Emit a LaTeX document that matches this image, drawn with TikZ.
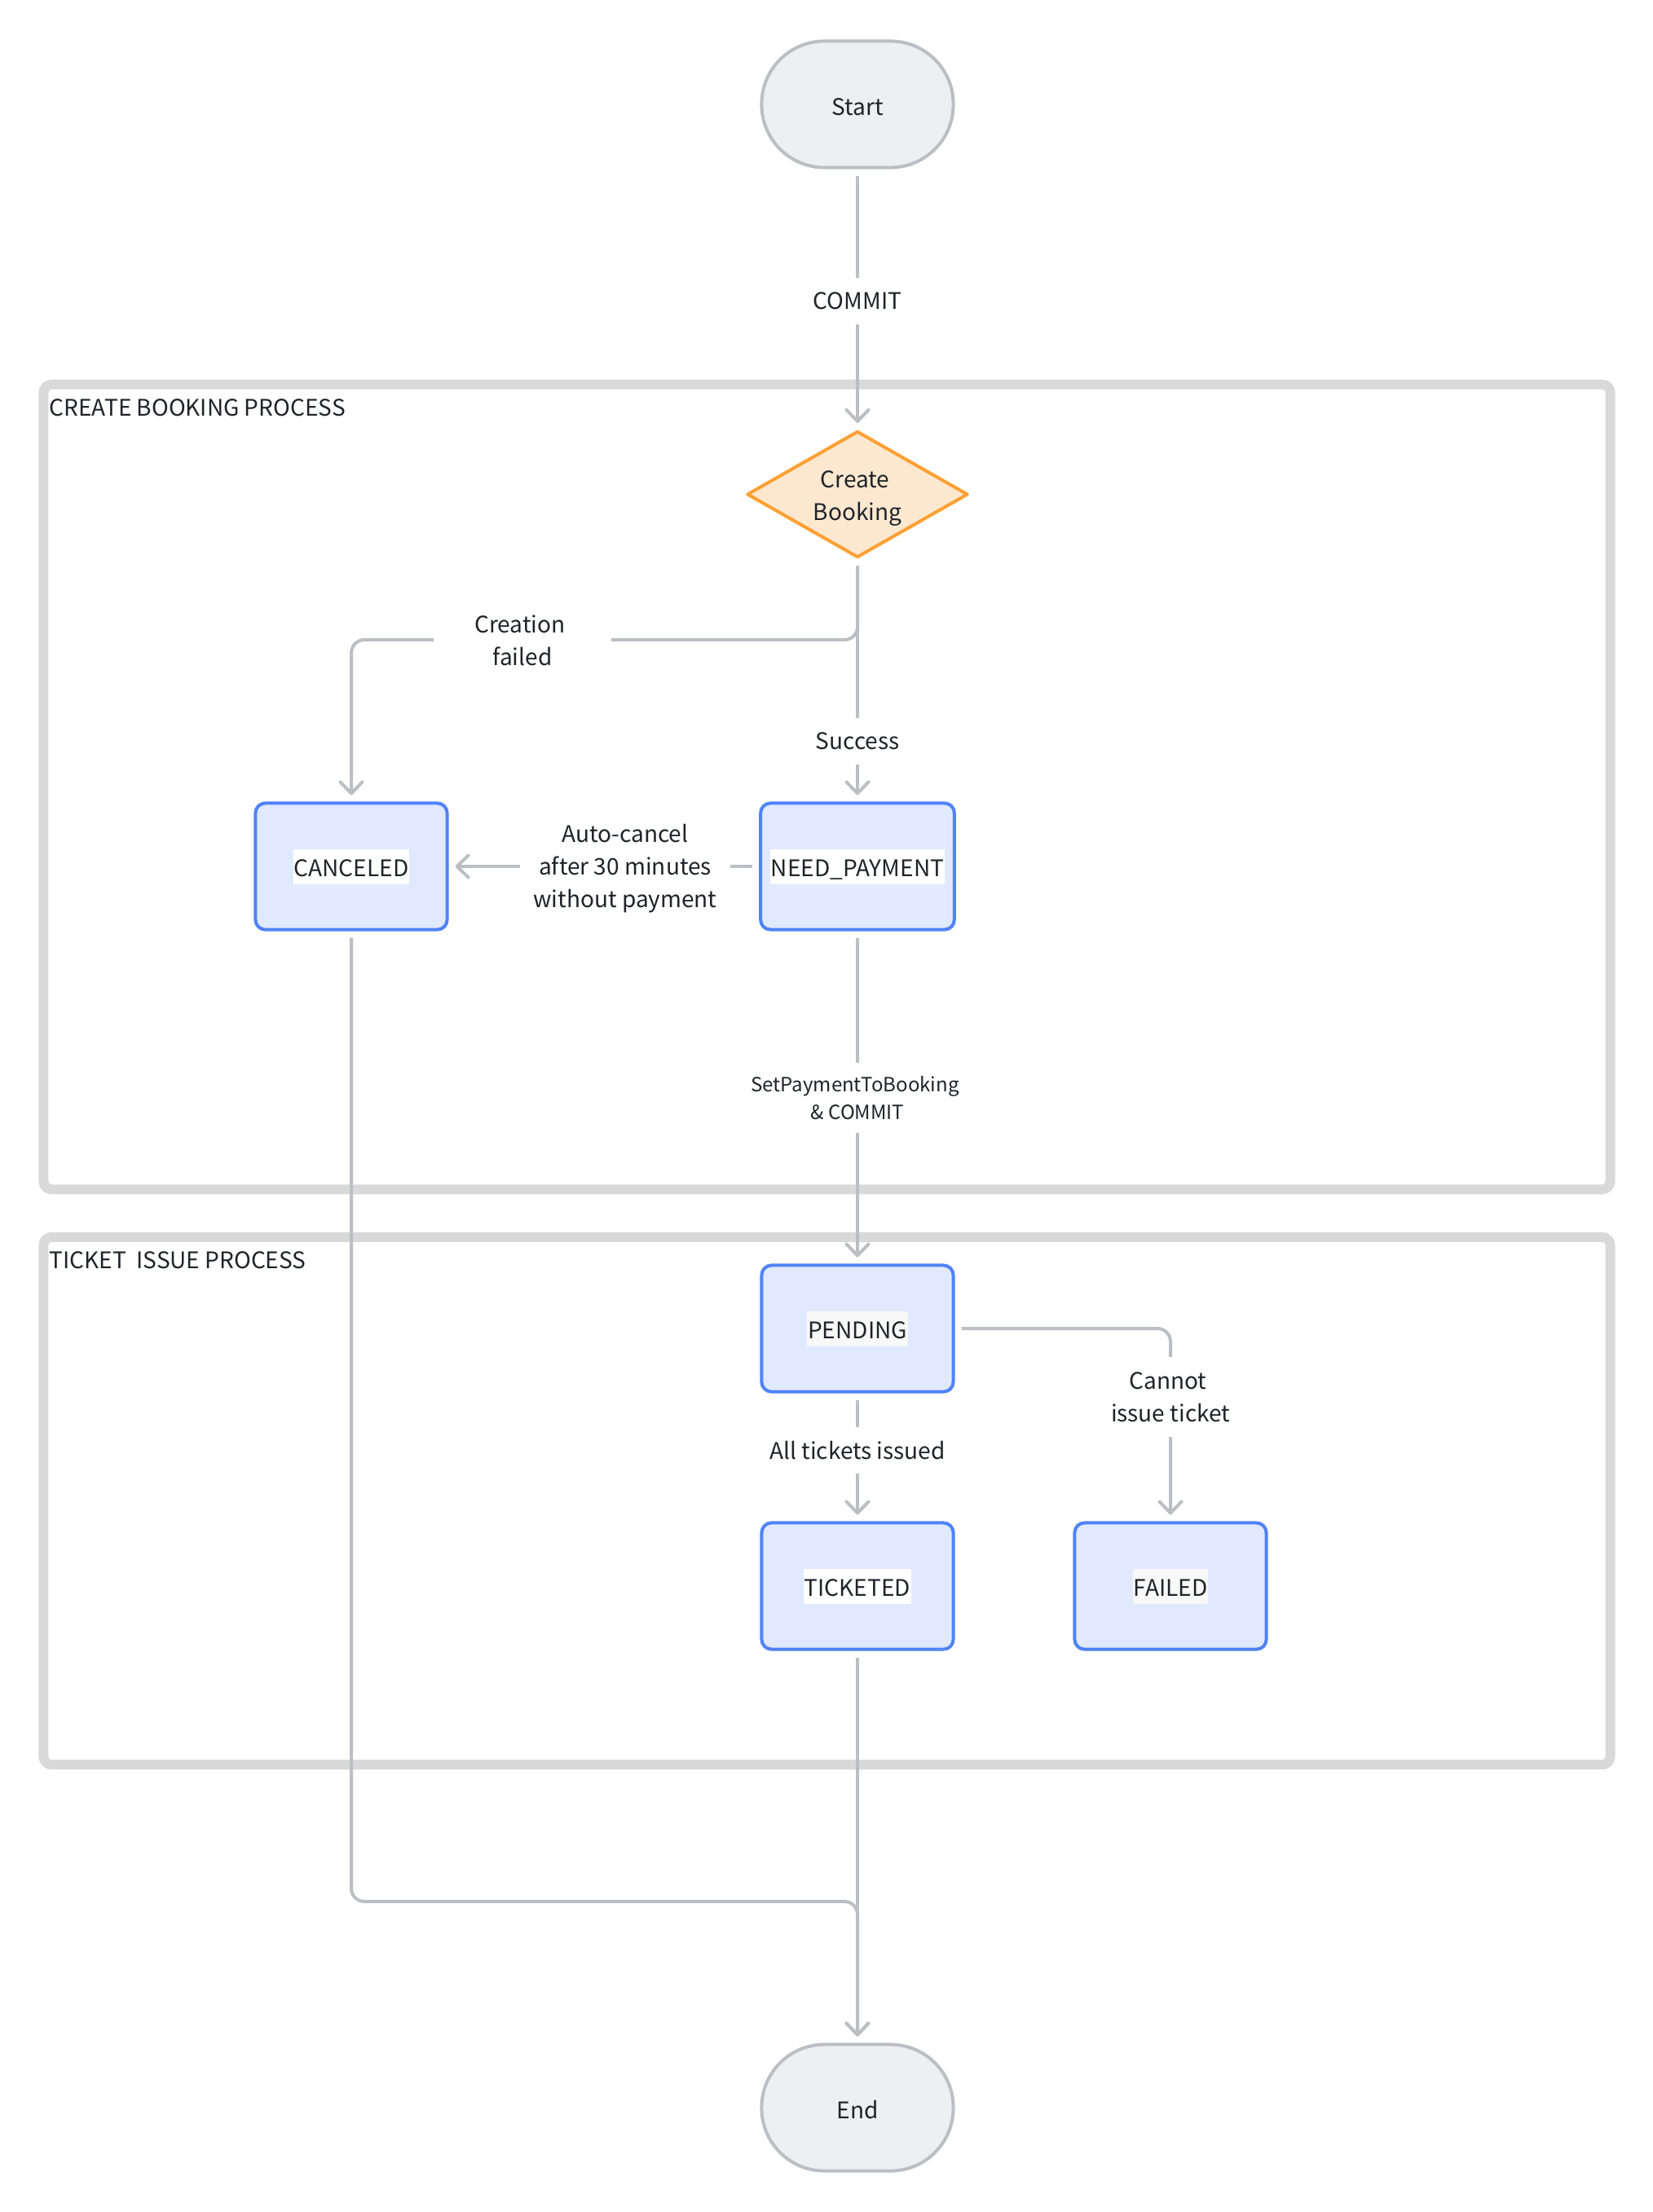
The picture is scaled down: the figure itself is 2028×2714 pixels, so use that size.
\documentclass[tikz,border=0pt]{standalone}
\usepackage{fontspec}
\setmainfont{Noto Sans CJK SC}
\usetikzlibrary{arrows.meta,shapes.geometric}
\definecolor{linegray}{HTML}{BBBFC4}
\definecolor{termfill}{HTML}{EEEFF1}
\definecolor{framegray}{HTML}{D9D9D9}
\definecolor{stateblue}{HTML}{5083F8}
\definecolor{statefill}{HTML}{E1E9FF}
\definecolor{choiceline}{HTML}{FFA033}
\definecolor{choicefill}{HTML}{FEE8D0}
\definecolor{inktext}{HTML}{1F2329}
\definecolor{offwhite}{HTML}{F8F8F8}
\newcommand{\mainsize}{\fontsize{7.97pt}{11.38pt}\selectfont}
\newcommand{\smallsize}{\fontsize{6.83pt}{9.7pt}\selectfont}
\newcommand{\statetext}[2]{{\setlength{\fboxsep}{0.01cm}\colorbox{#1}{\rule[-0.08cm]{0pt}{0.41cm}#2}}}
\begin{document}
\begin{tikzpicture}[x=0.01cm,y=-0.01cm]
          \tikzstyle{every node}=[font=\mainsize,text=inktext,align=center];
          \tikzstyle{groupbox}=[draw=framegray,line width=0.12cm,rounded corners=0.1cm,minimum width=19.21cm];
          \tikzstyle{grouptitle}=[anchor=west,inner sep=0pt];
          \tikzstyle{terminal}=[draw=linegray,fill=termfill,line width=0.04cm,rounded corners=0.77cm,minimum width=2.35cm,minimum height=1.55cm,text height=0.28cm];
          \tikzstyle{state}=[draw=stateblue,fill=statefill,line width=0.04cm,rounded corners=0.12cm,minimum width=2.35cm,minimum height=1.55cm];
          \tikzstyle{choice}=[draw=choiceline,fill=choicefill,line width=0.04cm,line join=round,shape=diamond,aspect=1.74,inner sep=0pt,minimum width=2.71cm,minimum height=1.55cm,text height=0.71cm];
          \tikzstyle{flow}=[draw=linegray,line width=0.04cm,rounded corners=0.16cm,shorten <=0.08cm,shorten >=0.08cm,-{Straight Barb[length=0.14cm,width=0.27cm,round]}];
          \tikzstyle{cut}=[fill=white,inner xsep=0pt,inner ysep=0pt];
          \useasboundingbox (0,0) rectangle (2028,2714);
          \node (booking) at (1014.5,965.5) [groupbox,minimum height=9.87cm] {};
          \node (issue) at (1014.5,1841.5) [groupbox,minimum height=6.47cm] {};
          \node (bookingtitle) at (60,500) [grouptitle] {CREATE BOOKING PROCESS};
          \node (issuetitle) at (60,1546) [grouptitle] {TICKET\ \ ISSUE PROCESS};
          \node (start) at (1052,128) [terminal] {Start};
          \node (create) at (1052,606.5) [choice] {Create\hspace*{0.06cm}\\Booking};
          \node (needpay) at (1052,1063) [state] {\statetext{white}{NEED\_PAYMENT}};
          \node (canceled) at (431,1063) [state] {\statetext{white}{CANCELED}};
          \node (pending) at (1052,1630) [state] {\statetext{offwhite}{PENDING}};
          \node (ticketed) at (1052,1946) [state] {\statetext{white}{TICKETED}};
          \node (failed) at (1436,1946) [state] {\statetext{offwhite}{FAILED}};
          \node (end) at (1052,2586) [terminal] {End};
          \coordinate (split) at (1052,785);
          \coordinate (join) at (1052,2333);
          \draw[flow] (start)--(create);
          \draw[flow] (create)--(needpay);
          \draw[flow] (create)--(split)-|(canceled);
          \draw[flow] (needpay)--(canceled);
          \draw[flow] (needpay)--(pending);
          \draw[flow] (pending)--(ticketed);
          \draw[flow] (pending)-|(failed);
          \draw[flow] (ticketed)--(end);
          \draw[flow] (canceled)|-(join)--(end);
          \node (commit) at (1052,369.5) [cut,minimum width=1.2cm,minimum height=0.56cm] {COMMIT};
          \node (creationfailed) at (641,786) [cut,minimum width=2.18cm,minimum height=0.97cm] {Creation\hspace*{0.06cm}\\failed};
          \node (success) at (1052,909) [cut,minimum width=1.2cm,minimum height=0.57cm] {Success};
          \node (autocancel) at (767,1066) [cut,minimum width=2.57cm,minimum height=1.36cm] {Auto-cancel\\after 30 minutes\\without payment};
          \node (setpayment) at (1049,1347) [cut,font=\smallsize,minimum width=1.2cm,minimum height=0.85cm] {SetPaymentToBooking\\\hspace*{0.06cm}\& COMMIT};
          \node (alltickets) at (1052,1779) [cut,minimum width=1.2cm,minimum height=0.57cm] {All tickets issued};
          \node (cannot) at (1436,1714) [cut,minimum width=1.2cm,minimum height=0.97cm] {Cannot\hspace*{0.06cm}\\issue ticket};
      \end{tikzpicture}
\end{document}
